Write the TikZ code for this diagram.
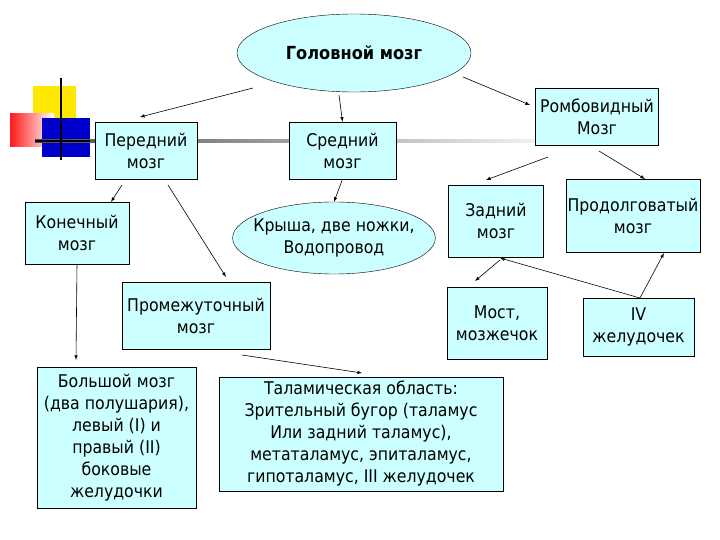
\documentclass[tikz,border=0pt]{standalone}
\usepackage{fontspec}
\setmainfont{DejaVu Sans Condensed}
\usetikzlibrary{shapes.geometric}
\definecolor{boxc}{RGB}{204,255,255}
\begin{document}
\begin{tikzpicture}[x=1pt,y=-1pt,
  bx/.style={draw,fill=boxc,align=center,inner sep=0pt,font=\fontsize{17.5}{22}\selectfont},
  el/.style={ellipse,draw,fill=boxc,align=center,inner sep=0pt,font=\fontsize{17.5}{22}\selectfont},
  ar/.style={-latex,semithick}]
\useasboundingbox (0,0) rectangle (720,540);
% decoration
\fill[yellow!90!orange] (33,86) rectangle (76,118);
\shade[left color=red!90, right color=white] (10,114) rectangle (54,147);
\fill[blue!80!black] (42,118) rectangle (90,157);
\shade[left color=black!70,right color=black!5] (35,140) rectangle (540,142.5);
\draw[line width=1.5pt] (35,141) -- (90,141);
\draw[line width=1.5pt] (61,78) -- (61,160);
% nodes
\node[el,minimum width=234,minimum height=78,font=\fontsize{18}{22}\selectfont\bfseries] (gm) at (354,53) {Головной мозг};
\node[bx,minimum width=102,minimum height=57] (pm) at (146,150.5) {Передний\\мозг};
\node[bx,minimum width=107,minimum height=57] (sm) at (342.5,150.5) {Средний\\мозг};
\node[bx,minimum width=123,minimum height=57] (rm) at (597,116.5) {Ромбовидный\\Мозг};
\node[bx,minimum width=104,minimum height=62] (km) at (77,233) {Конечный\\мозг};
\node[el,minimum width=186,minimum height=72,inner sep=-9pt] (kr) at (334,238) {Крыша, две ножки,\\Водопровод};
\node[bx,minimum width=95,minimum height=72] (zm) at (496,221) {Задний\\мозг};
\node[bx,minimum width=134,minimum height=73] (pr) at (633,215.5) {Продолговатый\\мозг};
\node[bx,minimum width=148,minimum height=67] (prm) at (196,315.5) {Промежуточный\\мозг};
\node[bx,minimum width=100,minimum height=72] (mo) at (497,323) {Мост,\\мозжечок};
\node[bx,minimum width=111,minimum height=58] (iv) at (638.5,327) {IV\\желудочек};
\node[bx,minimum width=159,minimum height=141] (bm) at (116.5,437.5) {Большой мозг\\(два полушария),\\левый (I) и\\правый (II)\\боковые\\желудочки};
\node[bx,minimum width=284,minimum height=114] (ta) at (361,434) {Таламическая область:\\Зрительный бугор (таламус\\Или задний таламус),\\метаталамус, эпиталамус,\\гипоталамус, III желудочек};
% arrows
\draw[ar] (253,88) -- (140,117);
\draw[ar] (339,95) -- (sm.north);
\draw[ar] (463,77) -- (530,105);
\draw[ar] (548,157) -- (486,180);
\draw[ar] (599,151) -- (645,179);
\draw[ar] (122,185) -- (111,202);
\draw[ar] (168,185) -- (226,277);
\draw[ar] (sm.south) -- (kr.north);
\draw[ar] (km.south) -- (76,360);
\draw[ar] (500,260) -- (475,281);
\coordinate (ivt) at (640,298);
\draw[ar] (ivt) -- (500,258);
\draw[ar] (ivt) -- (664,253);
\draw[ar] (242,355) -- (362,373);
\end{tikzpicture}
\end{document}
